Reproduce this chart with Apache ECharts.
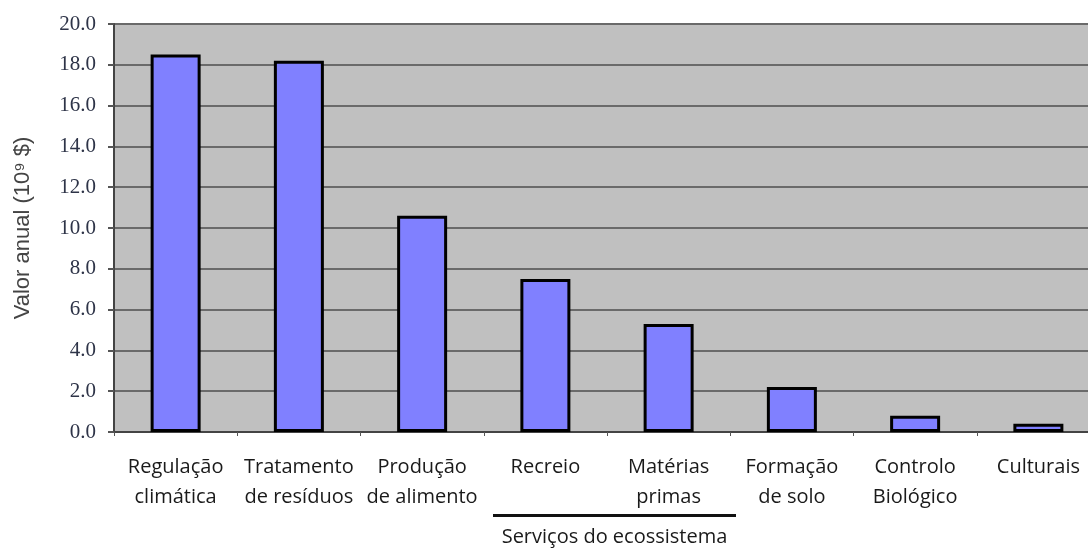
<!DOCTYPE html>
<html>
<head>
<meta charset="utf-8">
<script src="https://cdn.jsdelivr.net/npm/echarts@6/dist/echarts.min.js"></script>
<style>
  html, body { margin: 0; padding: 0; background: #fff; }
  #chart { width: 1088px; height: 549px; }
</style>
</head>
<body>
<div id="chart"></div>
<script>
// Ecosystem services and their annual value (10^9 $)
const categories = [
  'Regulação\nclimática',
  'Tratamento\nde resíduos',
  'Produção\nde alimento',
  'Recreio',
  'Matérias\nprimas',
  'Formação\nde solo',
  'Controlo\nBiológico',
  'Culturais'
];
const values = [18.5, 18.2, 10.6, 7.5, 5.3, 2.2, 0.8, 0.4];
const yTicks = [0, 2, 4, 6, 8, 10, 12, 14, 16, 18, 20];
const groupTitle = 'Serviços do ecossistema';

const chart = echarts.init(document.getElementById('chart'), null, { renderer: 'canvas' });

chart.setOption({
  animation: false,
  // group caption under the category labels, with a rule above it
  title: {
    text: '{l|}\n{t|' + groupTitle + '}',
    left: 493,
    top: 514,
    padding: 0,
    textStyle: {
      fontWeight: 'normal',
      rich: {
        l: { width: 243, height: 3, backgroundColor: '#111' },
        t: {
          width: 243, align: 'center',
          fontFamily: 'Open Sans, sans-serif', fontSize: 20, fontWeight: 'normal',
          color: '#1a1a1a', lineHeight: 24, padding: [16, 0, 0, 0]
        }
      }
    }
  },
  grid: {
    left: 114,
    top: 24,
    right: -12,
    height: 408,
    outerBoundsMode: 'none',
    containLabel: false,
    show: true,
    backgroundColor: '#c0c0c0',
    borderWidth: 0
  },
  xAxis: {
    type: 'category',
    data: categories,
    axisLine: { show: true, lineStyle: { color: '#444', width: 2 } },
    axisTick: { show: true, length: 4, lineStyle: { color: '#555', width: 1 } },
    axisLabel: {
      color: '#1a1a1a',
      fontFamily: 'Open Sans, sans-serif',
      fontSize: 20,
      lineHeight: 30,
      margin: 20,
      interval: 0
    }
  },
  yAxis: {
    type: 'value',
    min: yTicks[0],
    max: yTicks[yTicks.length - 1],
    interval: yTicks[1] - yTicks[0],
    axisLine: { show: true, lineStyle: { color: '#444', width: 2 } },
    axisTick: { show: true, length: 6, lineStyle: { color: '#555', width: 2 } },
    splitLine: { show: true, lineStyle: { color: '#6a6a6a', width: 2 } },
    axisLabel: {
      color: '#2e3448',
      fontFamily: 'Liberation Serif, DejaVu Serif, serif',
      fontSize: 21,
      margin: 18,
      formatter: v => v.toFixed(1)
    },
    name: 'Valor anual (10⁹ $)',
    nameLocation: 'middle',
    nameRotate: 90,
    nameGap: 80,
    nameTextStyle: {
      color: '#444',
      fontFamily: 'Liberation Sans, Arial, sans-serif',
      fontSize: 22
    }
  },
  series: [{
    type: 'bar',
    data: values,
    barWidth: 50,
    itemStyle: {
      color: '#8080ff',
      borderColor: '#000',
      borderWidth: 3
    }
  }]
});
</script>
</body>
</html>
